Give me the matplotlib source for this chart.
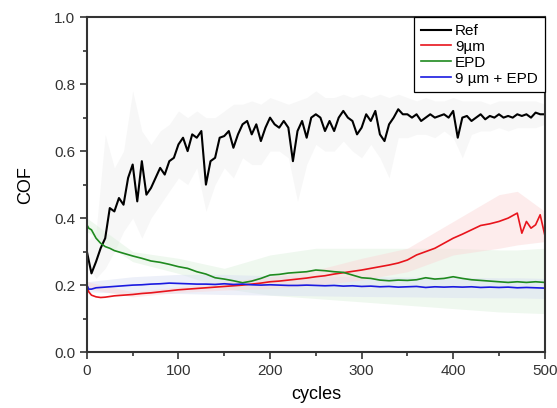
import matplotlib as mpl
mpl.use('Agg')
import matplotlib.pyplot as plt
from matplotlib.ticker import MultipleLocator

plt.rcParams['font.family'] = ['Liberation Sans', 'DejaVu Sans']

# Ref (black) line, every 5 cycles
ref_x = list(range(0, 501, 5))
ref_y = [0.30, 0.235, 0.27, 0.31, 0.34, 0.43, 0.42, 0.46, 0.44, 0.52,
         0.56, 0.45, 0.57, 0.47, 0.49, 0.52, 0.55, 0.53, 0.57, 0.58,
         0.62, 0.64, 0.60, 0.65, 0.64, 0.66, 0.50, 0.57, 0.58, 0.64,
         0.645, 0.66, 0.61, 0.65, 0.68, 0.69, 0.65, 0.68, 0.63, 0.67,
         0.70, 0.68, 0.67, 0.69, 0.67, 0.57, 0.66, 0.69, 0.64, 0.70,
         0.71, 0.70, 0.66, 0.69, 0.66, 0.70, 0.72, 0.70, 0.69, 0.65,
         0.67, 0.71, 0.69, 0.72, 0.65, 0.63, 0.68, 0.70, 0.725, 0.71,
         0.71, 0.70, 0.71, 0.69, 0.70, 0.71, 0.70, 0.705, 0.71, 0.70,
         0.72, 0.64, 0.70, 0.705, 0.69, 0.70, 0.71, 0.695, 0.705, 0.70,
         0.71, 0.70, 0.705, 0.70, 0.71, 0.705, 0.71, 0.70, 0.715, 0.71,
         0.71]

# grey spread around Ref, every 10 cycles
band_x10 = list(range(0, 501, 10))
ref_hi = [0.33, 0.36, 0.65, 0.55, 0.60, 0.78, 0.66, 0.62, 0.66, 0.68,
          0.72, 0.70, 0.72, 0.70, 0.70, 0.72, 0.74, 0.74, 0.75, 0.74,
          0.76, 0.75, 0.74, 0.75, 0.76, 0.78, 0.76, 0.76, 0.77, 0.76,
          0.77, 0.76, 0.77, 0.76, 0.77, 0.76, 0.75, 0.76, 0.75, 0.75,
          0.76, 0.75, 0.75, 0.75, 0.74, 0.75, 0.75, 0.75, 0.75, 0.75,
          0.74]
ref_lo = [0.26, 0.22, 0.25, 0.30, 0.36, 0.40, 0.34, 0.40, 0.44, 0.48,
          0.52, 0.50, 0.55, 0.42, 0.50, 0.55, 0.52, 0.58, 0.56, 0.56,
          0.60, 0.60, 0.58, 0.45, 0.56, 0.62, 0.60, 0.60, 0.63, 0.60,
          0.58, 0.62, 0.58, 0.52, 0.64, 0.64, 0.65, 0.65, 0.64, 0.66,
          0.64, 0.58, 0.65, 0.66, 0.66, 0.67, 0.66, 0.67, 0.67, 0.67,
          0.68]

# other three samples
cyc = [0, 2, 5, 10, 15, 20, 25] + list(range(30, 501, 10))
red_x = cyc[:-4] + [470, 475, 480, 485, 490, 495, 500]
red_y = [0.20, 0.180, 0.170, 0.165, 0.163, 0.164, 0.166, 0.168, 0.170, 0.172,
         0.175, 0.177, 0.180, 0.183, 0.186, 0.188, 0.190, 0.192, 0.194, 0.196,
         0.198, 0.200, 0.203, 0.206, 0.210, 0.212, 0.215, 0.218, 0.221, 0.225,
         0.228, 0.233, 0.237, 0.241, 0.245, 0.250, 0.255, 0.260, 0.266, 0.275,
         0.29, 0.30, 0.31, 0.325, 0.34, 0.352, 0.365, 0.378, 0.383, 0.39,
         0.40, 0.415, 0.355, 0.39, 0.37, 0.38, 0.41, 0.35]
epd_y = [0.38, 0.37, 0.365, 0.34, 0.325, 0.315, 0.31, 0.303, 0.295, 0.287,
         0.28, 0.272, 0.268, 0.262, 0.255, 0.25, 0.24, 0.233, 0.222, 0.218,
         0.213, 0.207, 0.212, 0.22, 0.23, 0.232, 0.236, 0.238, 0.24, 0.245,
         0.243, 0.24, 0.238, 0.23, 0.222, 0.22, 0.215, 0.213, 0.215, 0.214,
         0.216, 0.222, 0.218, 0.22, 0.225, 0.22, 0.216, 0.214, 0.212, 0.21,
         0.208, 0.21, 0.208, 0.21, 0.208]
mix_y = [0.20, 0.188, 0.188, 0.192, 0.193, 0.194, 0.195, 0.196, 0.198, 0.200,
         0.201, 0.203, 0.204, 0.206, 0.205, 0.204, 0.203, 0.203, 0.202, 0.204,
         0.202, 0.203, 0.201, 0.200, 0.201, 0.200, 0.199, 0.199, 0.200, 0.199,
         0.198, 0.199, 0.197, 0.198, 0.196, 0.197, 0.195, 0.196, 0.194, 0.195,
         0.196, 0.193, 0.195, 0.194, 0.195, 0.194, 0.195, 0.193, 0.194, 0.193,
         0.194, 0.192, 0.193, 0.192, 0.191]

# shaded spreads of the coloured curves
band_x50 = [0, 50, 100, 150, 200, 250, 300, 350, 400, 450, 470, 500]
red_lo = [0.19, 0.165, 0.178, 0.185, 0.19, 0.20, 0.215, 0.24, 0.29, 0.31, 0.32, 0.33]
red_hi = [0.21, 0.18, 0.195, 0.21, 0.225, 0.245, 0.28, 0.31, 0.39, 0.47, 0.48, 0.42]
epd_lo = [0.36, 0.27, 0.235, 0.19, 0.17, 0.16, 0.15, 0.14, 0.13, 0.12, 0.118, 0.115]
epd_hi = [0.40, 0.30, 0.28, 0.25, 0.29, 0.31, 0.31, 0.31, 0.31, 0.305, 0.305, 0.31]
mix_lo = [0.18, 0.175, 0.175, 0.172, 0.17, 0.168, 0.166, 0.165, 0.163, 0.162, 0.162, 0.16]
mix_hi = [0.21, 0.225, 0.232, 0.232, 0.228, 0.226, 0.225, 0.224, 0.223, 0.222, 0.222, 0.22]

fig = plt.figure(figsize=(5.57, 4.08), dpi=100)
ax = fig.add_axes([0.156, 0.137, 0.822, 0.821])

ax.fill_between(band_x10, ref_lo, ref_hi, color='#e6e6e6', alpha=0.3, lw=0)
ax.fill_between(band_x50, epd_lo, epd_hi, color='#dcf0dc', alpha=0.45, lw=0)
ax.fill_between(band_x50, mix_lo, mix_hi, color='#d8def2', alpha=0.45, lw=0)
ax.fill_between(band_x50, red_lo, red_hi, color='#fbd6d6', alpha=0.45, lw=0)

ax.plot(ref_x, ref_y, color='black', lw=1.5, label='Ref')
ax.plot(red_x, red_y, color='#e8141c', lw=1.2, label='9\u00b5m')
ax.plot(cyc, epd_y, color='#1f8a1f', lw=1.2, label='EPD')
ax.plot(cyc, mix_y, color='#1a1ae0', lw=1.2, label='9 \u00b5m + EPD')

ax.set_xlim(0, 500)
ax.set_ylim(0, 1.0)
ax.xaxis.set_major_locator(MultipleLocator(100))
ax.xaxis.set_minor_locator(MultipleLocator(50))
ax.yaxis.set_major_locator(MultipleLocator(0.2))
ax.yaxis.set_minor_locator(MultipleLocator(0.1))
ax.yaxis.set_major_formatter(mpl.ticker.FormatStrFormatter('%.1f'))
ax.tick_params(which='major', direction='out', length=5, width=1.2, labelsize=11, colors='#333333')
ax.tick_params(which='minor', direction='out', length=3, width=1.2, colors='#333333')
for s in ax.spines.values():
    s.set_linewidth(1.5)
    s.set_color('#333333')

ax.set_xlabel('cycles', fontsize=13, labelpad=6)
ax.set_ylabel('COF', fontsize=13, labelpad=14)

leg = ax.legend(loc='upper right', borderaxespad=0, fancybox=False, fontsize=11,
                handlelength=2.0, handletextpad=0.25, labelspacing=0.12,
                borderpad=0.45, framealpha=1)
leg.get_frame().set_edgecolor('black')
leg.get_frame().set_linewidth(0.9)

plt.savefig('out.png', dpi=100)
